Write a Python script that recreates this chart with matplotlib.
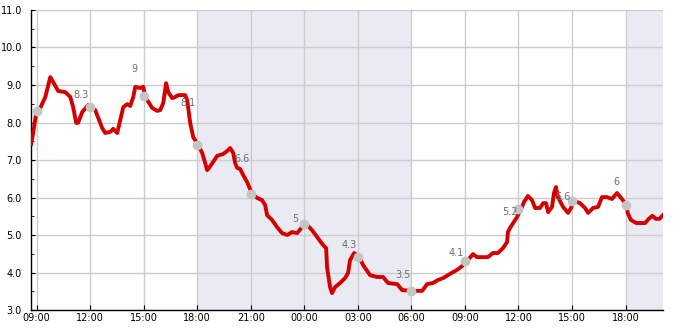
import numpy as np
import pandas as pd
import matplotlib
matplotlib.use('Agg')
import matplotlib.pyplot as plt
import matplotlib.dates as mdates

START = pd.Timestamp('2024-05-01 09:00')

# trace of the red line: hours after 09:00 on day one, value
hours = [-0.31, -0.2, -0.03, 0.03, 0.2, 0.48, 0.76, 0.92, 1.2, 1.6, 1.88, 2.04,
         2.21, 2.32, 2.55, 2.89, 3.05, 3.28, 3.45, 3.67, 3.84, 4.12, 4.29, 4.51,
         4.68, 4.85, 5.07, 5.24, 5.41, 5.52, 5.8, 5.97, 6.08, 6.19, 6.47, 6.75,
         6.92, 7.09, 7.25, 7.37, 7.59, 7.76, 7.93, 8.32, 8.43, 8.6, 8.77, 9.05,
         9.27, 9.44, 9.55, 9.66, 9.89, 10.11, 10.45, 10.67, 10.84, 11.01, 11.12,
         11.23, 11.4, 11.57, 11.79, 12.07, 12.35, 12.63, 12.8, 12.91, 13.19,
         13.47, 13.75, 14.04, 14.31, 14.59, 14.87, 15.1, 15.43, 15.71, 16.05,
         16.22, 16.27, 16.44, 16.55, 16.72, 17.0, 17.28, 17.45, 17.56, 17.79,
         18.07, 18.29, 18.68, 19.07, 19.41, 19.69, 20.2, 20.48, 21.09, 21.6,
         21.88, 22.21, 22.49, 22.77, 23.05, 23.33, 23.56, 23.84, 24.01, 24.12,
         24.45, 24.68, 25.29, 25.57, 25.85, 26.13, 26.36, 26.41, 26.53, 26.92,
         27.14, 27.31, 27.53, 27.76, 27.93, 28.21, 28.38, 28.54, 28.66, 28.88,
         28.99, 29.1, 29.21, 29.5, 29.78, 29.94, 30.11, 30.45, 30.73, 30.9,
         31.18, 31.46, 31.68, 31.96, 32.24, 32.52, 32.8, 33.05, 33.12, 33.3,
         33.6, 34.1, 34.3, 34.5, 34.7, 34.9, 35.1]
values = [7.43, 7.72, 8.25, 8.31, 8.39, 8.68, 9.21, 9.08, 8.84, 8.81, 8.68, 8.41,
          7.99, 7.99, 8.28, 8.47, 8.41, 8.33, 8.12, 7.85, 7.72, 7.75, 7.83, 7.72,
          8.07, 8.41, 8.49, 8.44, 8.68, 8.95, 8.92, 8.95, 8.70, 8.6, 8.39, 8.31,
          8.33, 8.52, 9.05, 8.81, 8.65, 8.68, 8.73, 8.73, 8.6, 7.99, 7.61, 7.4,
          7.19, 6.92, 6.73, 6.79, 6.95, 7.11, 7.16, 7.24, 7.32, 7.19, 6.92,
          6.79, 6.76, 6.6, 6.41, 6.1, 5.99, 5.93, 5.8, 5.53, 5.4,
          5.21, 5.05, 5.0, 5.08, 5.05, 5.21, 5.29, 5.13, 4.95, 4.73,
          4.65, 4.15, 3.61, 3.45, 3.61, 3.72, 3.85, 3.99, 4.33, 4.52,
          4.41, 4.2, 3.93, 3.88, 3.88, 3.72, 3.69, 3.53, 3.51, 3.51,
          3.69, 3.72, 3.8, 3.85, 3.93, 4.01, 4.07, 4.17, 4.33, 4.31,
          4.49, 4.41, 4.41, 4.52, 4.52, 4.65, 4.81, 5.08, 5.19, 5.48,
          5.69, 5.88, 6.04, 5.93, 5.72, 5.72, 5.85, 5.85, 5.61, 5.75,
          6.12, 6.28, 6.01, 5.75, 5.59, 5.72, 5.91, 5.85, 5.72, 5.59,
          5.72, 5.75, 6.01, 6.01, 5.96, 6.12, 5.96, 5.8, 5.59, 5.4,
          5.32, 5.32, 5.43, 5.51, 5.43, 5.43, 5.53]

# grey markers every three hours and their labels
mark_hours = [0, 3, 6, 9, 12, 15, 18, 21, 24, 27, 30, 33]
mark_values = [8.31, 8.41, 8.7, 7.4, 6.09, 5.29, 4.41, 3.51, 4.31, 5.69, 5.9, 5.8]
label_hours = [3, 6, 9, 12, 15, 18, 21, 24, 27, 30, 33]
label_values = [8.3, 9, 8.1, 6.6, 5, 4.3, 3.5, 4.1, 5.2, 5.6, 6]

# shaded night periods (hours after start)
night = [(9, 21), (33, 36)]

def to_time(h):
    return START + pd.to_timedelta(np.asarray(h, dtype=float), unit='h')

fig = plt.figure(figsize=(6.85, 3.3), dpi=100)
ax = fig.add_axes([0.0453, 0.0606, 0.9226, 0.9091])

for a, b in night:
    ax.axvspan(to_time(a), to_time(b), color='#eaeaf2', lw=0, zorder=0)

ax.plot(to_time(hours), values, color='#d40000', lw=2.8, zorder=3,
        solid_joinstyle='round')
ax.plot(to_time(mark_hours), mark_values, 'o', color='#c4c4c4', ms=7,
        mec='none', zorder=4)

for h, v in zip(label_hours, label_values):
    ax.annotate(f'{v:g}', xy=(to_time(h - 0.5), v), xytext=(0, 11.5),
                textcoords='offset points', ha='center', va='center',
                fontsize=7, color='#707070', zorder=5)

ax.set_xlim(to_time(-0.32), to_time(35.1))
ax.set_ylim(3, 11)
ax.xaxis.set_major_locator(mdates.HourLocator(interval=3))
ax.xaxis.set_major_formatter(mdates.DateFormatter('%H:%M'))
ax.yaxis.set_major_locator(plt.MultipleLocator(1))
ax.yaxis.set_minor_locator(plt.MultipleLocator(0.5))
ax.yaxis.set_major_formatter(plt.FormatStrFormatter('%.1f'))

ax.grid(True, color='#cccccc', lw=1, zorder=1)
ax.set_axisbelow(True)
for s in ['top', 'right']:
    ax.spines[s].set_visible(False)
for s in ['left', 'bottom']:
    ax.spines[s].set_color('black')
    ax.spines[s].set_linewidth(1)

ax.tick_params(axis='x', direction='in', length=3.6, pad=2.5, labelsize=7)
ax.tick_params(axis='y', which='major', direction='in', length=3, pad=6.5,
               labelsize=7)
ax.tick_params(axis='y', which='minor', direction='in', length=2.2)

fig.savefig('out.png', dpi=100)
